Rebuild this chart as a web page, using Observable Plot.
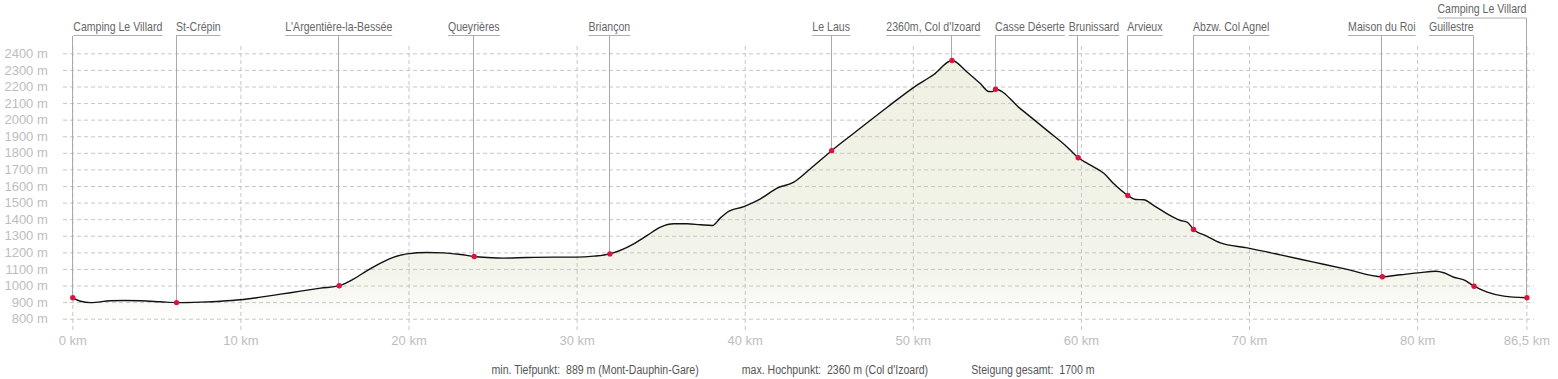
<!DOCTYPE html>
<html>
<head>
<meta charset="utf-8">
<script src="https://cdn.jsdelivr.net/npm/d3@7"></script>
<script src="https://cdn.jsdelivr.net/npm/@observablehq/plot@0.6"></script>
<style>
  html, body { margin: 0; padding: 0; background: #ffffff; }
  #chart svg { display: block; }
  #caption {
    width: 1558px; height: 23px; position: relative;
  }
  #caption .inner {
    position: absolute; left: 793px; top: 7px;
    transform: translateX(-50%) scaleX(0.88);
    transform-origin: 50% 50%;
    display: flex; gap: 49px;
    font-family: "Liberation Sans", Arial, sans-serif;
    font-size: 12px; color: #555; white-space: pre; line-height: 14px;
  }
</style>
</head>
<body>
<div id="chart"></div>
<div id="caption"><div class="inner"></div></div>
<script>
// ---------- data ----------
const profileKm = [0, 0.46, 1.05, 2.24, 3.03, 4.03, 5.22, 6.17, 7.6, 8.79, 9.98, 11.17, 12.36, 13.55, 14.74, 15.85,
  16.72, 17.51, 18.31, 19.1, 19.89, 21.08, 22.07, 23.06, 23.88, 24.65, 25.64, 27.03, 28.61, 30.0, 31.0, 31.95,
  33.37, 34.17, 34.96, 35.75, 36.55, 37.34, 38.04, 38.53, 38.93, 39.92, 40.91, 41.9, 42.89, 43.88, 45.14, 46.46,
  48.45, 50.03, 51.22, 52.3, 53.21, 54.0, 54.49, 54.7, 54.89, 56.38, 57.97, 59.16, 59.81, 60.35, 60.94, 61.33,
  61.93, 62.76, 63.22, 63.71, 64.31, 65.1, 65.9, 66.29, 66.67, 67.48, 68.27, 69.86, 71.84, 73.82, 75.81, 77.9,
  78.98, 80.17, 81.07, 81.56, 82.15, 82.75, 83.36, 84.14, 85.13, 86.5];
const profileElev = [929, 908, 900, 911, 913, 911, 905, 900, 903, 908, 917, 933, 951, 969, 987, 1002,
  1043, 1093, 1138, 1174, 1194, 1202, 1200, 1190, 1178, 1172, 1168, 1172, 1174, 1174, 1180, 1194,
  1254, 1305, 1355, 1375, 1375, 1369, 1365, 1411, 1445, 1479, 1526, 1590, 1626, 1707, 1816, 1921,
  2078, 2198, 2275, 2360, 2289, 2219, 2173, 2172, 2186, 2068, 1937, 1837, 1773, 1740, 1706, 1680,
  1616, 1546, 1522, 1520, 1485, 1435, 1395, 1385, 1341, 1300, 1260, 1230, 1188, 1144, 1100, 1056,
  1068, 1081, 1089, 1080, 1053, 1037, 999, 963, 939, 929];

const stopNames = ["Camping Le Villard", "St-Crépin", "L'Argentière-la-Bessée", "Queyrières", "Briançon",
  "Le Laus", "2360m, Col d'Izoard", "Casse Déserte", "Brunissard", "Arvieux", "Abzw. Col Agnel",
  "Maison du Roi", "Guillestre", "Camping Le Villard"];
const stopKm = [0, 6.17, 15.85, 23.88, 31.95, 45.14, 52.3, 54.89, 59.81, 62.76, 66.67, 77.9, 83.36, 86.5];
const stopElev = [929, 900, 1002, 1178, 1194, 1816, 2360, 2186, 1773, 1546, 1341, 1056, 999, 929];

const yTickValues = [800, 900, 1000, 1100, 1200, 1300, 1400, 1500, 1600, 1700, 1800, 1900, 2000, 2100, 2200, 2300, 2400];
const yTickLabels = ["800 m", "900 m", "1000 m", "1100 m", "1200 m", "1300 m", "1400 m", "1500 m", "1600 m",
  "1700 m", "1800 m", "1900 m", "2000 m", "2100 m", "2200 m", "2300 m", "2400 m"];
const xTickValues = [0, 10, 20, 30, 40, 50, 60, 70, 80, 86.5];
const xTickLabels = ["0 km", "10 km", "20 km", "30 km", "40 km", "50 km", "60 km", "70 km", "80 km", "86,5 km"];

const captionItems = ["min. Tiefpunkt:  889 m (Mont-Dauphin-Gare)", "max. Hochpunkt:  2360 m (Col d'Izoard)", "Steigung gesamt:  1700 m"];

// ---------- label layout (placement only) ----------
const labelAnchor = ["start", "start", "middle", "middle", "middle", "middle", "end", "start", "start", "start", "start", "middle", "end", "end"];
const labelDx = [1, 0, 0, 0, 0, 0, 29, 0, -9, 0, 0, 0, 0, 0];
const labelRow = [1, 1, 1, 1, 1, 1, 1, 1, 1, 1, 1, 1, 1, 2];

// ---------- chart ----------
const W = 1558, H = 356;
const labelFont = '"Liberation Sans", Arial, sans-serif';
const labelSqueeze = 0.88;   // horizontal condensing of the stop labels
const axisFont = '"Liberation Sans", Arial, sans-serif';

const profile = profileKm.map((k, i) => ({km: k, elev: profileElev[i]}));
const stops = stopNames.map((n, i) => ({name: n, km: stopKm[i], elev: stopElev[i],
  anchor: labelAnchor[i], dx: labelDx[i], row: labelRow[i]}));

function gradientDefs() {
  const defs = d3.create("svg:defs");
  const g = defs.append("linearGradient").attr("id", "profileFill")
    .attr("x1", 0).attr("y1", 0).attr("x2", 0).attr("y2", 1);
  g.append("stop").attr("offset", "0%").attr("stop-color", "#f0f1e3");
  g.append("stop").attr("offset", "82%").attr("stop-color", "#f3f4ea");
  g.append("stop").attr("offset", "100%").attr("stop-color", "#fefefc");
  return defs.node();
}

function stopLabels(index, scales) {
  const g = d3.create("svg:g").attr("class", "stop-labels");
  for (const s of stops) {
    const x = scales.x(s.km), y = scales.y(s.elev);
    const top = s.row === 2 ? 18 : 35.5;
    g.append("line").attr("x1", x).attr("x2", x).attr("y1", top).attr("y2", y)
      .attr("stroke", "#a9a9a9").attr("stroke-width", 1).attr("shape-rendering", "crispEdges");
    const lg = g.append("g").attr("class", "stop-label-group")
      .attr("transform", `translate(${x + s.dx},0) scale(${labelSqueeze},1)`);
    lg.append("text").attr("class", "stop-label")
      .attr("x", 0).attr("y", top - 4.5)
      .attr("data-top", top)
      .attr("text-anchor", s.anchor)
      .attr("font-family", labelFont).attr("font-size", 12).attr("fill", "#666")
      .text(s.name);
  }
  return g.node();
}

const chart = Plot.plot({
  width: W, height: H,
  marginLeft: 72.3, marginRight: 31.6, marginTop: 53.3, marginBottom: 37.3,
  x: {domain: [0, 86.5], axis: null},
  y: {domain: [800, 2400], axis: null},
  style: {background: "#ffffff", fontFamily: axisFont, overflow: "visible"},
  marks: [
    gradientDefs,
    Plot.areaY(profile, {x: "km", y1: 800, y2: "elev", fill: "url(#profileFill)", curve: "monotone-x"}),
    Plot.ruleY(yTickValues, {y: d => d, x1: -0.55, x2: 86.95, stroke: "#c6c6c6", strokeWidth: 1, strokeDasharray: "4,3"}),
    Plot.ruleX(xTickValues, {x: d => d, y1: 732, y2: 2450, stroke: "#c6c6c6", strokeWidth: 1, strokeDasharray: "4,3"}),
    Plot.line(profile, {x: "km", y: "elev", stroke: "#111", strokeWidth: 1.4, curve: "monotone-x"}),
    stopLabels,
    Plot.dot(stops, {x: "km", y: "elev", r: 2.7, fill: "#dc1240", stroke: "none"}),
    Plot.text(yTickValues, {y: d => d, text: (d, i) => yTickLabels[i], frameAnchor: "left", dx: -25,
      textAnchor: "end", fill: "#bdbdbd", fontSize: 13, fontFamily: axisFont}),
    Plot.text(xTickValues, {x: d => d, text: (d, i) => xTickLabels[i], frameAnchor: "bottom", dy: 25.5,
      textAnchor: "middle", fill: "#bdbdbd", fontSize: 13, fontFamily: axisFont})
  ]
});

document.getElementById("chart").appendChild(chart);

// underline each stop label with its own measured width (same local, condensed space)
d3.select(chart).selectAll("text.stop-label").each(function () {
  const b = this.getBBox();
  const top = +this.getAttribute("data-top");
  d3.select(this.parentNode).append("line")
    .attr("x1", b.x).attr("x2", b.x + b.width).attr("y1", top).attr("y2", top)
    .attr("stroke", "#a9a9a9").attr("stroke-width", 1).attr("shape-rendering", "crispEdges");
});

const cap = d3.select("#caption .inner");
for (const c of captionItems) cap.append("span").text(c);
</script>
</body>
</html>
